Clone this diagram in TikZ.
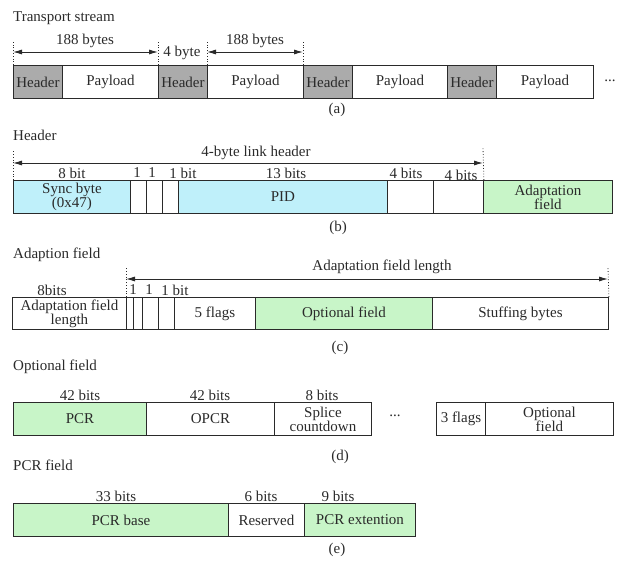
\documentclass[tikz,border=0pt]{standalone}
\usepackage{fontspec}
\setmainfont{Liberation Serif}
\usetikzlibrary{arrows.meta}
\definecolor{hdrgray}{HTML}{ABABAB}
\definecolor{cyanf}{HTML}{BFF0FA}
\definecolor{greenf}{HTML}{C8F5C8}
\definecolor{inkc}{HTML}{2A2A2A}
\begin{document}
\begin{tikzpicture}[x=1pt,y=-1pt,
  every node/.style={font=\fontsize{15}{14}\selectfont, text=inkc},
  field/.style={draw=inkc, line width=0.9pt, inner sep=0pt, minimum height=33pt, align=center, anchor=north west},
  lbl/.style={inner sep=0pt},
  ttl/.style={inner sep=0pt, anchor=west},
  dimarrow/.style={draw=inkc, line width=0.9pt, {Latex[length=9pt,width=5pt]}-{Latex[length=9pt,width=5pt]}},
  guide/.style={draw=inkc, line width=0.8pt, dotted}]
\useasboundingbox (0,0) rectangle (618,560);

% ---------------- (a) ----------------
\node[ttl] (ta) at (13,18) {Transport stream};
\node[field,fill=hdrgray,minimum width=49pt] (h1) at (13,65) {Header};
\node[field,minimum width=96pt] (p1) at (62,65) {Payload};
\node[field,fill=hdrgray,minimum width=49pt] (h2) at (158,65) {Header};
\node[field,minimum width=96pt] (p2) at (207,65) {Payload};
\node[field,fill=hdrgray,minimum width=49pt] (h3) at (303,65) {Header};
\node[field,minimum width=95pt] (p3) at (352,65) {Payload};
\node[field,fill=hdrgray,minimum width=49pt] (h4) at (447,65) {Header};
\node[field,minimum width=97pt] (p4) at (496,65) {Payload};
\node[lbl] (dotsa) at (610,81) {...};
\coordinate (ga1) at (13,42);
\coordinate (ga2) at (158,42);
\coordinate (ga3) at (207,42);
\coordinate (ga4) at (303,42);
\draw[guide] (h1.north west) -- (ga1);
\draw[guide] (h2.north west) -- (ga2);
\draw[guide] (p2.north west) -- (ga3);
\draw[guide] (h3.north west) -- (ga4);
\coordinate (aa1) at (13,52);
\coordinate (aa2) at (158,52);
\coordinate (aa3) at (207,52);
\coordinate (aa4) at (303,52);
\draw[dimarrow] (aa1) -- (aa2);
\draw[dimarrow] (aa3) -- (aa4);
\node[lbl] (la1) at (85,41) {188 bytes};
\node[lbl] (la2) at (182,53) {4 byte};
\node[lbl] (la3) at (255,41) {188 bytes};
\node[lbl] (capa) at (337,110) {(a)};

% ---------------- (b) ----------------
\node[ttl] (tb) at (13,135) {Header};
\node[field,fill=cyanf,minimum width=117pt] (sync) at (13,180) {Sync byte\\(0x47)};
\node[field,minimum width=16pt] (b1) at (130,180) {};
\node[field,minimum width=16pt] (b2) at (146,180) {};
\node[field,minimum width=16pt] (b3) at (162,180) {};
\node[field,fill=cyanf,minimum width=209pt] (pid) at (178,180) {PID};
\node[field,minimum width=46pt] (f1) at (387,180) {};
\node[field,minimum width=50pt] (f2) at (433,180) {};
\node[field,fill=greenf,minimum width=129pt] (adapt) at (483,180) {Adaptation\\field};
\node[lbl] (lb1) at (72,173) {8 bit};
\node[lbl] (lb2) at (137,173) {1};
\node[lbl] (lb3) at (152,173) {1};
\node[lbl] (lb4) at (183,173) {1 bit};
\node[lbl] (lb5) at (286,173) {13 bits};
\node[lbl] (lb6) at (406,173) {4 bits};
\node[lbl] (lb7) at (461,175) {4 bits};
\coordinate (gb1) at (13,150);
\coordinate (gb2) at (483,148);
\draw[guide] (sync.north west) -- (gb1);
\draw[guide] (f2.north east) -- (gb2);
\coordinate (ab1) at (13,163);
\coordinate (ab2) at (483,163);
\draw[dimarrow] (ab1) -- (ab2);
\node[lbl] (lbh) at (256,153) {4-byte link header};
\node[lbl] (capb) at (338,228) {(b)};

% ---------------- (c) ----------------
\node[ttl] (tc) at (13,255) {Adaption field};
\node[field,minimum width=114pt,minimum height=32pt] (afl) at (12,297) {Adaptation field\\length};
\node[field,minimum width=7pt,minimum height=32pt] (c1) at (126,297) {};
\node[field,minimum width=9pt,minimum height=32pt] (c2) at (133,297) {};
\node[field,minimum width=16pt,minimum height=32pt] (c3) at (142,297) {};
\node[field,minimum width=16pt,minimum height=32pt] (c4) at (158,297) {};
\node[field,minimum width=81pt,minimum height=32pt] (flags) at (174,297) {5 flags};
\node[field,fill=greenf,minimum width=177pt,minimum height=32pt] (opt) at (255,297) {Optional field};
\node[field,minimum width=176pt,minimum height=32pt] (stuff) at (432,297) {Stuffing bytes};
\node[lbl] (lc1) at (52,290) {8bits};
\node[lbl] (lc2) at (133,290) {1};
\node[lbl] (lc3) at (149,290) {1};
\node[lbl] (lc4) at (175,290) {1 bit};
\coordinate (gc1) at (126,268);
\coordinate (gc2) at (608,268);
\draw[guide] (c1.north west) -- (gc1);
\draw[guide] (stuff.north east) -- (gc2);
\coordinate (ac1) at (126,279);
\coordinate (ac2) at (608,279);
\draw[dimarrow] (ac1) -- (ac2);
\node[lbl] (lcl) at (382,267) {Adaptation field length};
\node[lbl] (capc) at (340,348) {(c)};

% ---------------- (d) ----------------
\node[ttl] (td) at (13,367) {Optional field};
\node[field,fill=greenf,minimum width=133pt] (pcr) at (13,402) {PCR};
\node[field,minimum width=128pt] (opcr) at (146,402) {OPCR};
\node[field,minimum width=97pt] (splice) at (274,402) {Splice\\countdown};
\node[lbl] (dotsd) at (395,416) {...};
\node[field,minimum width=49pt] (fl3) at (436,402) {3 flags};
\node[field,minimum width=128pt] (optf) at (485,402) {Optional\\field};
\node[lbl] (ld1) at (80,395) {42 bits};
\node[lbl] (ld2) at (210,395) {42 bits};
\node[lbl] (ld3) at (322,395) {8 bits};
\node[lbl] (capd) at (340,457) {(d)};

% ---------------- (e) ----------------
\node[ttl] (te) at (13,465) {PCR field};
\node[field,fill=greenf,minimum width=215pt] (base) at (13,503) {PCR base};
\node[field,minimum width=76pt] (resv) at (228,503) {Reserved};
\node[field,fill=greenf,minimum width=111pt] (ext) at (304,503) {PCR extention};
\node[lbl] (le1) at (116,496) {33 bits};
\node[lbl] (le2) at (261,496) {6 bits};
\node[lbl] (le3) at (338,496) {9 bits};
\node[lbl] (cape) at (337,550) {(e)};
\end{tikzpicture}
\end{document}
